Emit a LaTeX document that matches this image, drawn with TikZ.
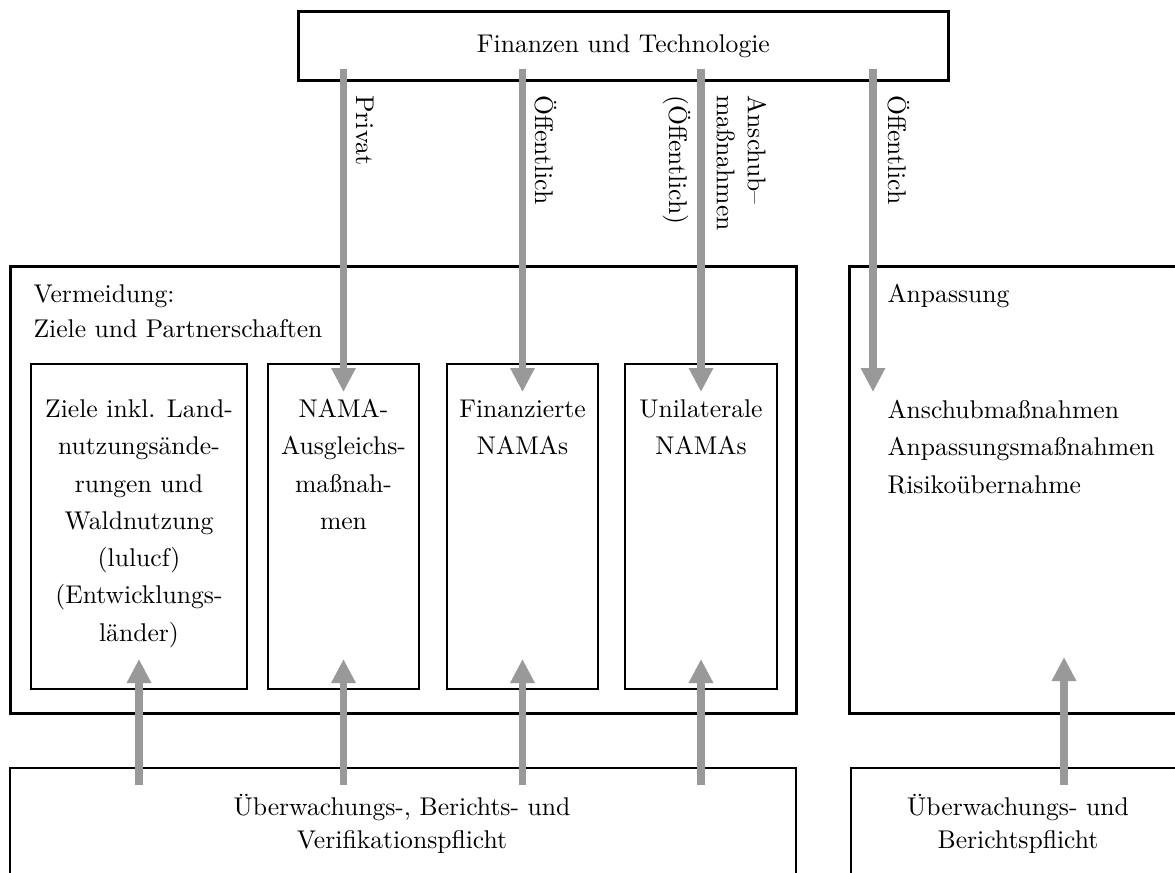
\documentclass[tikz,border=0pt]{standalone}
\usetikzlibrary{arrows.meta}
\usetikzlibrary{positioning}
\newcommand{\firstline}{\rule{0pt}{10pt}}

\begin{document}
\begin{tikzpicture}
		[x = 0.4pt, y = -0.4pt,
		font=\fontsize{10.25pt}{14.9pt}\selectfont,
		mainbox/.style={draw,line width=1.1pt,inner sep=0pt,anchor=north west},
		subbox/.style={draw,line width=0.8pt,inner sep=0pt,anchor=north west},
		boxtext/.style={inner sep=0pt,align=center},
		listtext/.style={inner sep=0pt,align=left,anchor=north west},
		feed/.style={draw=gray!80,line width=3pt,line cap=butt,-{Triangle[width=9.2pt,length=9.6pt]}},
		sidelabel/.style={rotate=-90,inner sep=0pt,font=\fontsize{10.25pt}{12.4pt}\selectfont}
		]
		\useasboundingbox (0,0) rectangle (1175,873);
		\clip (0,0) rectangle (1175,873);

		% Finanzen und Technologie
		\node[mainbox,minimum width=650*0.4pt,minimum height=69*0.4pt] (fin) at (297,10) {Finanzen und Technologie};

		% Vermeidung / Anpassung
		\node[mainbox,minimum width=786*0.4pt,minimum height=447*0.4pt] (verm) at (9,265) {};
		\node[mainbox,minimum width=339*0.4pt,minimum height=447*0.4pt] (anp) at (848,265) {};
		\node[listtext,font=\fontsize{10.25pt}{14pt}\selectfont] (vermtext) at (33,277) {\firstline Vermeidung:\\Ziele und Partnerschaften};
		\node[inner sep=0pt,anchor=base west] (anptext) at (887,302) {Anpassung};
		\node[listtext] (anplist) at (887,393) {\firstline Anschubmaßnahmen\\Anpassungsmaßnahmen\\Risikoübernahme};

		% inner boxes
		\node[subbox,minimum width=216*0.4pt,minimum height=325*0.4pt] (ziele) at (30,363) {};
		\node[subbox,minimum width=151*0.4pt,minimum height=325*0.4pt] (ausgl) at (267,363) {};
		\node[subbox,minimum width=151*0.4pt,minimum height=325*0.4pt] (finnama) at (446,363) {};
		\node[subbox,minimum width=152*0.4pt,minimum height=325*0.4pt] (uninama) at (624,363) {};

		\node[boxtext,anchor=north] (zieletext) at ([yshift=-29*0.4pt]ziele.north) {\firstline Ziele inkl. Land-\\nutzungsände-\\rungen und\\Waldnutzung\\(lulucf)\\(Entwicklungs-\\länder)};
		\node[boxtext,anchor=north] (ausgltext) at ([yshift=-29*0.4pt]ausgl.north) {\firstline NAMA-\\Ausgleichs-\\maßnah-\\men};
		\node[boxtext,anchor=north] (finnamatext) at ([yshift=-29*0.4pt]finnama.north) {\firstline Finanzierte\\NAMAs};
		\node[boxtext,anchor=north] (uninamatext) at ([yshift=-29*0.4pt]uninama.north) {\firstline Unilaterale\\NAMAs};

		% Pflichten
		\node[subbox,minimum width=786*0.4pt,minimum height=140*0.4pt] (mrv) at (9,767) {};
		\node[subbox,minimum width=337*0.4pt,minimum height=140*0.4pt] (mr) at (850,767) {};
		\node[boxtext,anchor=north,font=\fontsize{10.25pt}{13.2pt}\selectfont] (mrvtext) at (402,790) {\firstline Überwachungs-, Berichts- und\\Verifikationspflicht};
		\node[boxtext,anchor=north,font=\fontsize{10.25pt}{13.2pt}\selectfont] (mrtext) at (1018,790) {\firstline Überwachungs- und\\Berichtspflicht};

		% labels on the arrows
		\node[sidelabel,anchor=base west] (privat) at (356,95) {Privat};
		\node[sidelabel,anchor=base west] (oeff) at (535,95) {Öffentlich};
		\node[sidelabel,anchor=base west] (anschuboeff) at (669,95) {(Öffentlich)};
		\node[sidelabel,anchor=south west,align=left] (anschub) at (716,95) {Anschub\textendash\\maßnahmen};
		\node[sidelabel,anchor=base west] (oeffanp) at (888,95) {Öffentlich};

		\coordinate (anpin) at (873,392);
		\coordinate (anpout) at (1064,657);

		%draw the arrows
		\draw[feed] ([yshift=13*0.4pt]fin.south -| ausgl.north) -- ([yshift=-29*0.4pt]ausgl.north);
		\draw[feed] ([yshift=13*0.4pt]fin.south -| finnama.north) -- ([yshift=-29*0.4pt]finnama.north);
		\draw[feed] ([yshift=13*0.4pt]fin.south -| uninama.north) -- ([yshift=-29*0.4pt]uninama.north);
		\draw[feed] ([yshift=13*0.4pt]fin.south -| anpin) -- (anpin);

		\draw[feed] ([yshift=-18*0.4pt]mrv.north -| ziele.south) -- ([yshift=31*0.4pt]ziele.south);
		\draw[feed] ([yshift=-18*0.4pt]mrv.north -| ausgl.south) -- ([yshift=31*0.4pt]ausgl.south);
		\draw[feed] ([yshift=-18*0.4pt]mrv.north -| finnama.south) -- ([yshift=31*0.4pt]finnama.south);
		\draw[feed] ([yshift=-18*0.4pt]mrv.north -| uninama.south) -- ([yshift=31*0.4pt]uninama.south);
		\draw[feed] ([yshift=-18*0.4pt]mr.north -| anpout) -- (anpout);
\end{tikzpicture}
\end{document}
